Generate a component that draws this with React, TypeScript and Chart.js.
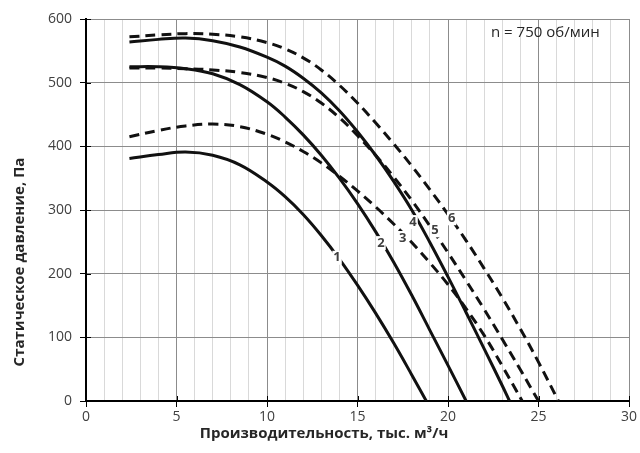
import React, { useEffect, useRef } from 'react';
import { Chart, registerables } from 'chart.js';

Chart.register(...registerables);

const FONT = "'Open Sans', 'DejaVu Sans', sans-serif";

// Curve 1 (solid)
const curve1X = [2.4, 4, 5.5, 7, 8.5, 10, 11, 12, 13, 14, 15, 16, 17, 18, 18.8];
const curve1Y = [381, 387, 391, 386, 371, 344, 321, 293, 260, 223, 182, 138, 91, 41, 0];
// Curve 2 (solid)
const curve2X = [2.4, 4, 5.5, 7, 8.5, 10, 11, 12, 13, 14, 15, 16, 17, 18, 19, 20, 21];
const curve2Y = [525, 525, 522, 514, 497, 470, 446, 418, 386, 350, 310, 266, 218, 166, 111, 56, 0];
// Curve 3 (dashed)
const curve3X = [2.4, 4, 5.5, 7, 8.5, 10, 11, 12, 13, 14, 15, 16, 17, 18, 19, 20, 21, 22, 23, 24.1];
const curve3Y = [415, 425, 432, 435, 431, 419, 407, 392, 374, 353, 330, 305, 278, 249, 217, 183, 145, 103, 55, 0];
// Curve 4 (solid)
const curve4X = [2.4, 4, 5.5, 7, 8.5, 10, 11, 12, 13, 14, 15, 16, 17, 18, 19, 20, 21, 22, 23, 23.4];
const curve4Y = [564, 568, 570, 566, 556, 540, 526, 507, 484, 456, 423, 386, 345, 300, 249, 195, 139, 82, 24, 0];
// Curve 5 (dashed)
const curve5X = [2.4, 4, 5.5, 7, 8.5, 10, 11, 12, 13, 14, 15, 16, 17, 18, 19, 20, 21, 22, 23, 24, 25];
const curve5Y = [523, 523, 522, 520, 516, 508, 499, 486, 468, 445, 417, 386, 352, 315, 275, 233, 189, 144, 97, 49, 0];
// Curve 6 (dashed)
const curve6X = [2.4, 4, 5.5, 7, 8.5, 10, 11, 12, 13, 14, 15, 16, 17, 18, 19, 20, 21, 22, 23, 24, 25, 26.1];
const curve6Y = [572, 575, 577, 576, 572, 563, 553, 539, 520, 496, 468, 437, 404, 369, 332, 293, 252, 208, 162, 113, 61, 0];

// Curve number labels (in data coordinates)
const curveLabels = ['1', '2', '3', '4', '5', '6'];
const curveLabelX = [13.87, 16.3, 17.5, 18.07, 19.28, 20.2];
const curveLabelY = [225, 248, 256, 281, 268, 287];

const xTitle = 'Производительность, тыс. м³/ч';
const yTitle = 'Статическое давление, Па';
const noteText = 'n = 750 об/мин';

const xMin = 0, xMax = 30, xMinorStep = 1, xMajorStep = 5;
const yMin = 0, yMax = 600, yStep = 100;

const series = [
  { xs: curve1X, ys: curve1Y, dashed: false },
  { xs: curve2X, ys: curve2Y, dashed: false },
  { xs: curve3X, ys: curve3Y, dashed: true },
  { xs: curve4X, ys: curve4Y, dashed: false },
  { xs: curve5X, ys: curve5Y, dashed: true },
  { xs: curve6X, ys: curve6Y, dashed: true },
];

const decorPlugin = {
  id: 'decor',
  afterDatasetsDraw(chart: any) {
    const { ctx, chartArea, scales } = chart;
    const xs = scales.x, ys = scales.y;
    ctx.save();
    // crossing tick marks inside the plot
    ctx.strokeStyle = '#000';
    ctx.lineWidth = 1;
    ctx.beginPath();
    for (let v = xMin; v <= xMax; v += xMajorStep) {
      const px = Math.round(xs.getPixelForValue(v)) + 0.5;
      ctx.moveTo(px, chartArea.bottom);
      ctx.lineTo(px, chartArea.bottom - 5);
    }
    for (let v = yMin; v <= yMax; v += yStep) {
      const py = Math.round(ys.getPixelForValue(v)) + 0.5;
      ctx.moveTo(chartArea.left, py);
      ctx.lineTo(chartArea.left + 5, py);
    }
    ctx.stroke();

    // curve labels
    ctx.font = `bold 13px ${FONT}`;
    ctx.textAlign = 'center';
    ctx.textBaseline = 'middle';
    curveLabels.forEach((t, i) => {
      const px = xs.getPixelForValue(curveLabelX[i]);
      const py = ys.getPixelForValue(curveLabelY[i]);
      const w = ctx.measureText(t).width;
      ctx.fillStyle = '#fff';
      ctx.fillRect(px - w / 2 - 1, py - 7, w + 2, 14);
      ctx.fillStyle = '#404040';
      ctx.fillText(t, px, py);
    });

    // note
    ctx.font = `15px ${FONT}`;
    ctx.fillStyle = '#262626';
    ctx.textAlign = 'left';
    ctx.fillText(noteText, 491, 33);
    ctx.restore();
  },
  afterDraw(chart: any) {
    const { ctx } = chart;
    ctx.save();
    ctx.fillStyle = '#262626';
    ctx.font = `bold 15px ${FONT}`;
    ctx.textAlign = 'center';
    ctx.textBaseline = 'middle';
    ctx.fillText(xTitle, 324, 434);
    ctx.translate(20, 262);
    ctx.rotate(-Math.PI / 2);
    ctx.fillText(yTitle, 0, 0);
    ctx.restore();
  },
};

export default function App() {
  const ref = useRef<HTMLCanvasElement>(null);
  useEffect(() => {
    document.body.style.margin = '0';
    const canvas = ref.current;
    if (!canvas) return;
    const chart = new Chart(canvas, {
      type: 'scatter',
      data: {
        datasets: series.map((s) => ({
          data: s.xs.map((x, i) => ({ x, y: s.ys[i] })),
          showLine: true,
          borderColor: '#111',
          backgroundColor: '#111',
          borderWidth: 3,
          borderDash: s.dashed ? [10, 6] : [],
          pointRadius: 0,
          tension: 0.4,
          fill: false,
        })),
      },
      options: {
        responsive: false,
        animation: false,
        devicePixelRatio: 1,
        layout: { padding: { top: 19, right: 11, left: 0, bottom: 0 } },
        plugins: { legend: { display: false }, tooltip: { enabled: false } },
        scales: {
          x: {
            type: 'linear',
            min: xMin,
            max: xMax,
            afterFit: (s: any) => { s.height = 52; },
            ticks: {
              stepSize: xMinorStep,
              autoSkip: false,
              maxRotation: 0,
              callback: (v: any) => (Number(v) % xMajorStep === 0 ? String(v) : ''),
              font: { family: FONT, size: 14 },
              color: '#404040',
              padding: 2,
            },
            grid: {
              color: (c: any) => (c.tick && c.tick.value % xMajorStep === 0 ? '#8c8c8c' : '#d9d9d9'),
              lineWidth: 1,
              tickLength: 6,
              tickColor: (c: any) => (c.tick && c.tick.value % xMajorStep === 0 ? '#000' : 'rgba(0,0,0,0)'),
            },
            border: { color: '#000', width: 2 },
          },
          y: {
            min: yMin,
            max: yMax,
            afterFit: (s: any) => { s.width = 86; },
            ticks: {
              stepSize: yStep,
              font: { family: FONT, size: 14 },
              color: '#404040',
              padding: 8,
            },
            grid: { color: '#8c8c8c', lineWidth: 1, tickLength: 6, tickColor: '#000' },
            border: { color: '#000', width: 2 },
          },
        },
      },
      plugins: [decorPlugin],
    });
    return () => chart.destroy();
  }, []);
  return (
    <div style={{ width: 640, height: 453, position: 'relative' }}>
      <canvas ref={ref} width={640} height={453} style={{ display: 'block' }} />
    </div>
  );
}
